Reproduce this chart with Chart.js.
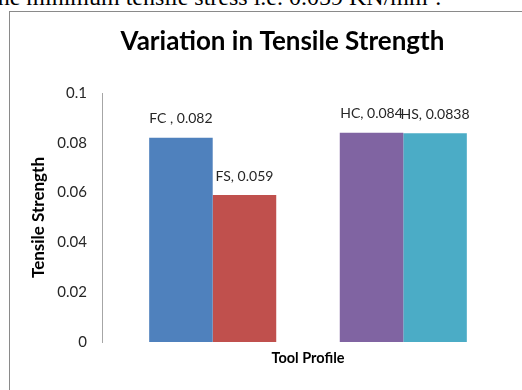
<!DOCTYPE html>
<html>
<head>
<meta charset="utf-8">
<script src="https://cdn.jsdelivr.net/npm/chart.js@4/dist/chart.umd.min.js"></script>
<style>
  html, body { margin: 0; padding: 0; width: 522px; height: 390px; overflow: hidden; background: #fff; position: relative; }
  #doctext { position: absolute; left: -9px; top: -17px; font-family: "Liberation Serif", "Times New Roman", serif; font-size: 24px; color: #000; white-space: nowrap; line-height: 28px; }
  #doctext sup { font-size: 15px; line-height: 0; }
  #frame { position: absolute; left: 9px; top: 11px; width: 560px; height: 400px; border-left: 1px solid #8a8a8a; border-top: 1px solid #8a8a8a; }
  #wrap { position: absolute; left: 10px; top: 12px; width: 545px; height: 378px; }
</style>
</head>
<body>
<div id="doctext">the minimum tensile stress i.e. 0.059 KN/mm<sup>2</sup>.</div>
<div id="frame"></div>
<div id="wrap"><canvas id="c" width="545" height="378"></canvas></div>
<script>
// ---- data ----
const categories = [""];
const seriesNames = ["FC ", "FS", "", "HC", "HS"];
const seriesValues = [0.082, 0.059, null, 0.084, 0.0838];
const seriesColors = ["#4F81BD", "#C0504D", "rgba(0,0,0,0)", "#8064A2", "#4BACC6"];
const yTickValues = [0, 0.02, 0.04, 0.06, 0.08, 0.1];
const yTickLabels = ["0", "0.02", "0.04", "0.06", "0.08", "0.1"];
const chartTitle = "Variation in Tensile Strength";
const yTitle = "Tensile Strength";
const xTitle = "Tool Profile";

const datasets = seriesNames.map((name, i) => ({
  label: name,
  data: [seriesValues[i]],
  backgroundColor: seriesColors[i],
  borderWidth: 0,
  categoryPercentage: 0.771,
  barPercentage: 1.0,
  yAxisID: 'y'
}));

const valueLabels = {
  id: 'valueLabels',
  afterDatasetsDraw(chart) {
    const ctx = chart.ctx;
    ctx.save();
    ctx.font = '14px Lato';
    ctx.fillStyle = '#262626';
    ctx.textAlign = 'center';
    ctx.textBaseline = 'middle';
    chart.data.datasets.forEach((ds, i) => {
      const meta = chart.getDatasetMeta(i);
      meta.data.forEach((bar, j) => {
        const v = ds.data[j];
        if (v === null || v === undefined) return;
        ctx.fillText(ds.label + ', ' + v, bar.x, bar.y - 19);
      });
    });
    ctx.restore();
  }
};

new Chart(document.getElementById('c'), {
  type: 'bar',
  data: { labels: categories, datasets: datasets },
  options: {
    responsive: false,
    animation: false,
    layout: { padding: 0 },
    plugins: {
      legend: { display: false },
      tooltip: { enabled: false },
      title: {
        display: true,
        text: chartTitle,
        color: '#000',
        font: { family: 'Lato', size: 26, weight: 'bold' },
        padding: { top: 14.4, bottom: 35.4 }
      }
    },
    scales: {
      x: {
        grid: { display: false, drawTicks: false },
        border: { display: false },
        ticks: { display: false },
        title: {
          display: true, text: xTitle, color: '#000',
          font: { family: 'Lato', size: 14.5, weight: 'bold' },
          padding: { top: 0, bottom: 23.3 }
        },
        afterFit(scale) { scale.height = 48; }
      },
      y: {
        min: yTickValues[0], max: yTickValues[yTickValues.length - 1],
        afterBuildTicks(scale) { scale.ticks = yTickValues.map(v => ({ value: v })); },
        grid: { display: false, drawTicks: false },
        border: { display: true, color: '#a6a6a6', width: 1 },
        ticks: {
          padding: 15, color: '#262626', font: { family: 'Lato', size: 15 },
          callback: (v, i) => yTickLabels[i]
        },
        title: {
          display: true, text: yTitle, color: '#000',
          font: { family: 'Lato', size: 17, weight: 'bold' },
          padding: { top: 18.8, bottom: 0 }
        },
        afterFit(scale) { scale.width = 92; }
      },
      yRight: {
        position: 'right',
        display: true,
        grid: { display: false, drawTicks: false },
        border: { display: false },
        ticks: { display: false },
        afterFit(scale) { scale.width = 41; }
      }
    }
  },
  plugins: [valueLabels]
});
</script>
</body>
</html>
